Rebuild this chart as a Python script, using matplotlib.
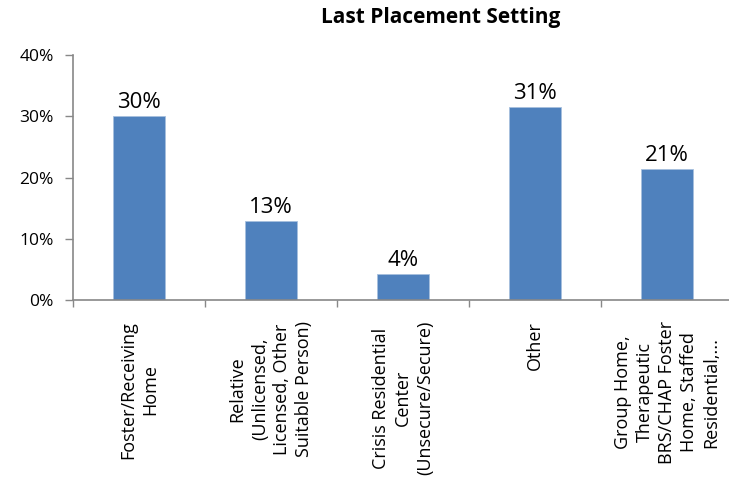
import matplotlib
matplotlib.use("Agg")
import matplotlib.pyplot as plt
import numpy as np

categories = [
    "Foster/Receiving\nHome",
    "Relative\n(Unlicensed,\nLicensed, Other\nSuitable Person)",
    "Crisis Residential\nCenter\n(Unsecure/Secure)",
    "Other",
    "Group Home,\nTherapeutic\nBRS/CHAP Foster\nHome, Staffed\nResidential,...",
]
values = [30.0, 12.9, 4.2, 31.5, 21.4]
value_labels = ["30%", "13%", "4%", "31%", "21%"]
yticks = [0, 10, 20, 30, 40]
ytick_labels = ["0%", "10%", "20%", "30%", "40%"]
title = "Last Placement Setting"

plt.rcParams['font.family'] = ['Open Sans', 'DejaVu Sans']

fig = plt.figure(figsize=(7.29, 4.84), dpi=100)
ax = fig.add_axes([73/729, 1-300/484, 660/729, 245/484])

x = np.arange(len(values))
ax.bar(x, values, width=0.4, color="#4f81bd", edgecolor="#a7c0de", linewidth=0.6)

for xi, v, lab in zip(x, values, value_labels):
    ax.text(xi, v + 0.5, lab, ha="center", va="bottom", fontsize=16, color="#000000")

ax.set_xlim(-0.5, len(values) - 0.5)
ax.set_ylim(0, 40)
ax.set_yticks(yticks)
ax.set_yticklabels(ytick_labels, fontsize=12.5)

ax.set_xticks(x)
ax.set_xticklabels([])
ax.tick_params(axis="x", which="major", length=0)
ax.set_xticks(np.arange(-0.5, len(values), 1.0), minor=True)
ax.tick_params(axis="x", which="minor", length=5, color="#888888", width=1)
ax.tick_params(axis="y", length=6, color="#888888", width=1, pad=8)

for xi, cat in zip(x, categories):
    ax.annotate(cat, xy=(xi, 0), xycoords=("data", "axes fraction"),
                xytext=(0, -15), textcoords="offset points",
                rotation=90, ha="center", va="top", multialignment="center",
                fontsize=13, linespacing=1.3)

for s in ["top", "right"]:
    ax.spines[s].set_visible(False)
for s in ["left", "bottom"]:
    ax.spines[s].set_color("#888888")
    ax.spines[s].set_linewidth(1.2)

fig.text(441/729, 1 - 18/484, title, ha="center", va="center",
         fontsize=15, fontweight="bold")

fig.savefig("out.png", dpi=100)
